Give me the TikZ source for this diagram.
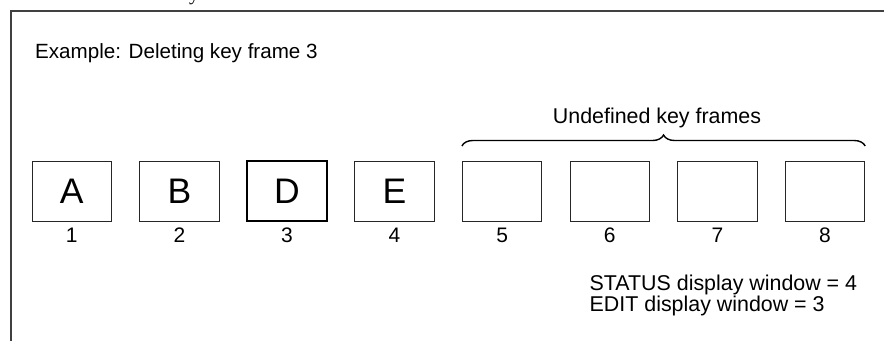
\documentclass[tikz,border=0pt]{standalone}
\usepackage{fontspec}
\setmainfont{Liberation Sans}
\newfontfamily\serifpart{Liberation Serif}
\usetikzlibrary{decorations.pathreplacing}
\begin{document}
\begin{tikzpicture}[x=1pt,y=1pt,
  framebox/.style={draw=black!85, line width=1pt, minimum width=79.5pt, minimum height=60pt, inner sep=0pt, font=\fontsize{35.5}{40}\selectfont},
  curbox/.style={framebox, draw=black, line width=2.3pt},
  numlab/.style={inner sep=0pt, font=\fontsize{21}{25}\selectfont},
  txt/.style={inner sep=0pt, font=\fontsize{21.4}{25}\selectfont, align=left}]
\useasboundingbox (0,0) rectangle (884,341);
\begin{scope}
\clip (0,0) rectangle (884,341);
% partial caption glyph at top edge
\node[inner sep=0pt, anchor=base west, font=\serifpart\fontsize{20}{24}\selectfont] (cap) at (189,340.5) {y};
% open frame
\coordinate (fbl) at (11,0);
\coordinate (ftl) at (11,330);
\coordinate (ftr) at (884,330);
\draw[black!75, line width=1.4pt] (fbl) -- (ftl) -- (ftr);
\end{scope}
\node[txt, anchor=base west, font=\fontsize{20.6}{25}\selectfont] (title) at (35,283) {Example: Deleting key frame 3};
% boxes
\node[framebox] (b1) at (71.75,150) {A};
\node[framebox] (b2) at (179.35,150) {B};
\node[curbox]   (b3) at (286.95,150) {D};
\node[framebox] (b4) at (394.55,150) {E};
\node[framebox] (b5) at (502.15,150) {};
\node[framebox] (b6) at (609.75,150) {};
\node[framebox] (b7) at (717.35,150) {};
\node[framebox] (b8) at (824.95,150) {};
\foreach \i in {1,...,8}{
  \node[numlab] (n\i) at ([yshift=-44pt]b\i.center) {\i};
}
% brace over undefined frames
\coordinate (brL) at ([yshift=14.5pt]b5.north west);
\coordinate (brR) at ([yshift=14.5pt]b8.north east);
\draw[black, line width=1.4pt, decorate, decoration={brace, amplitude=11pt}] (brL) -- (brR);
\node[txt, anchor=base] (undef) at (657,218) {Undefined key frames};
% status text
\node[txt, anchor=base west] (st1) at (589.5,51) {STATUS display window = 4};
\node[txt, anchor=base west] (st2) at (589.5,30) {EDIT display window = 3};
\end{tikzpicture}
\end{document}
